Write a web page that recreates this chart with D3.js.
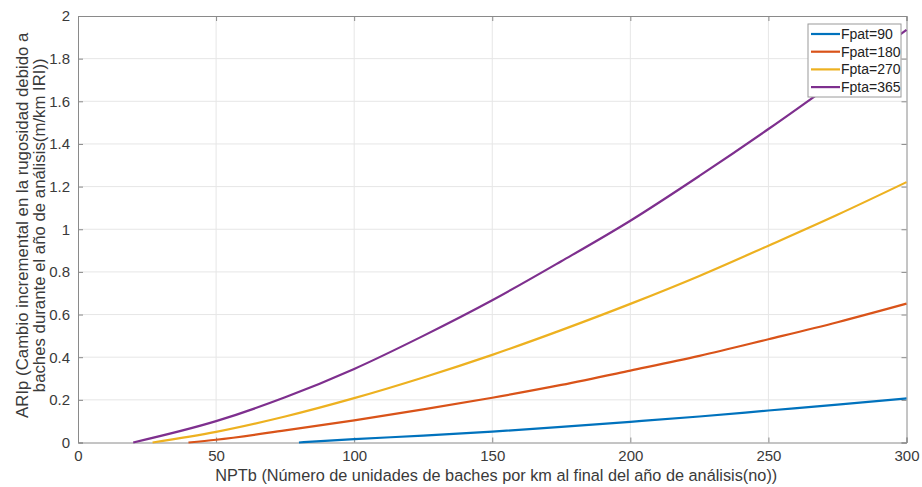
<!DOCTYPE html>
<html><head><meta charset="utf-8">
<script src="https://cdn.jsdelivr.net/npm/d3@7"></script>
<style>body{margin:0;background:#fff;} svg{display:block;font-family:"Liberation Sans",Arial,sans-serif;}</style>
</head><body>
<svg id="c" width="922" height="487"></svg>
<script>
const seriesNames = ["Fpat=90","Fpat=180","Fpta=270","Fpta=365"];
const seriesColors = ["#0072BD","#D95319","#EDB120","#7E2F8E"];
const xFpat90 = [80,100,125,150,175,200,225,250,275,300];
const yFpat90 = [0,0.016,0.032,0.051,0.073,0.097,0.122,0.150,0.178,0.207];
const xFpat180 = [40,50,75,100,125,150,175,200,225,250,275,300];
const yFpat180 = [0,0.013,0.057,0.104,0.155,0.210,0.270,0.337,0.406,0.484,0.564,0.651];
const xFpta270 = [27,50,75,100,125,150,175,200,225,250,275,300];
const yFpta270 = [0,0.050,0.122,0.208,0.305,0.411,0.527,0.650,0.781,0.923,1.068,1.221];
const xFpta365 = [20,50,75,100,125,150,175,200,225,250,275,300];
const yFpta365 = [0,0.100,0.212,0.345,0.500,0.667,0.850,1.040,1.250,1.470,1.700,1.935];
const xTicks = [0,50,100,150,200,250,300];
const yTicks = [0,0.2,0.4,0.6,0.8,1,1.2,1.4,1.6,1.8,2];
const xLabel = "NPTb (Número de unidades de baches por km al final del año de análisis(no))";
const yLabel1 = "ARIp (Cambio incremental en la rugosidad debido a";
const yLabel2 = "baches durante el año de análisis(m/km IRI))";

const xsAll = [xFpat90,xFpat180,xFpta270,xFpta365];
const ysAll = [yFpat90,yFpat180,yFpta270,yFpta365];

const L=78, R=906.5, T=16, B=442.5;
const svg = d3.select("#c");
const x = d3.scaleLinear().domain([0,300]).range([L,R]);
const y = d3.scaleLinear().domain([0,2]).range([B,T]);
const axisCol = "#8a8a8a", textCol = "#3a3a3a";

// grid
const g = svg.append("g");
g.selectAll(".gx").data(xTicks.slice(1,-1)).enter().append("line")
 .attr("x1",d=>x(d)).attr("x2",d=>x(d)).attr("y1",T).attr("y2",B)
 .attr("stroke","#e6e6e6").attr("stroke-width",1);
g.selectAll(".gy").data(yTicks.slice(1,-1)).enter().append("line")
 .attr("y1",d=>y(d)).attr("y2",d=>y(d)).attr("x1",L).attr("x2",R)
 .attr("stroke","#e6e6e6").attr("stroke-width",1);

// axes
const ax = svg.append("g").attr("transform",`translate(0,${B})`)
 .call(d3.axisBottom(x).tickValues(xTicks).tickSize(-5).tickPadding(8).tickFormat(d3.format("d")));
const ay = svg.append("g").attr("transform",`translate(${L},0)`)
 .call(d3.axisLeft(y).tickValues(yTicks).tickSize(-5).tickPadding(8).tickFormat(d=>String(+d.toFixed(1))));
const axt = svg.append("g").attr("transform",`translate(0,${T})`)
 .call(d3.axisTop(x).tickValues(xTicks).tickSize(-5).tickFormat(""));
const ayr = svg.append("g").attr("transform",`translate(${R},0)`)
 .call(d3.axisRight(y).tickValues(yTicks).tickSize(-5).tickFormat(""));
[ax,ay,axt,ayr].forEach(a=>{
  a.selectAll("path").attr("stroke",axisCol);
  a.selectAll("line").attr("stroke",axisCol);
  a.selectAll("text").attr("fill",textCol).style("font-size","15px").style("font-family","'Liberation Sans',Arial,sans-serif");
});
ax.selectAll("text").attr("dy","0.71em");

// lines
const line = d3.line().x(d=>x(d[0])).y(d=>y(d[1])).curve(d3.curveMonotoneX);
seriesNames.forEach((n,i)=>{
  const pts = xsAll[i].map((v,j)=>[v,ysAll[i][j]]);
  svg.append("path").datum(pts).attr("d",line)
    .attr("fill","none").attr("stroke",seriesColors[i]).attr("stroke-width",2.2);
});

// labels
svg.append("text").attr("x",(L+R)/2+4).attr("y",481).attr("text-anchor","middle")
 .attr("fill",textCol).style("font-size","16.3px").text(xLabel);
const yl = svg.append("text").attr("transform",`translate(28,${(T+B)/2-4}) rotate(-90)`)
 .attr("text-anchor","middle").attr("fill",textCol).style("font-size","16.8px");
yl.append("tspan").attr("x",0).attr("dy",0).text(yLabel1);
yl.append("tspan").attr("x",0).attr("dy",16.5).text(yLabel2);

// legend
const lg = svg.append("g").attr("transform","translate(808,24)");
lg.append("rect").attr("width",93).attr("height",73).attr("fill","#fff").attr("stroke","#9a9a9a").attr("stroke-width",1);
seriesNames.forEach((n,i)=>{
  const yy = 10 + i*17.7;
  lg.append("line").attr("x1",3).attr("x2",32).attr("y1",yy).attr("y2",yy)
    .attr("stroke",seriesColors[i]).attr("stroke-width",2.2);
  lg.append("text").attr("x",33).attr("y",yy).attr("dy","0.35em").attr("fill","#222")
    .style("font-size","14px").text(n);
});
</script>
</body></html>
